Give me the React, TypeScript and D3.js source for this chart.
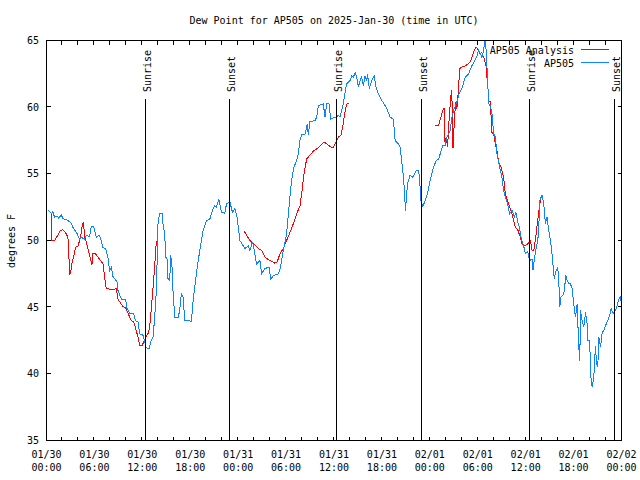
import React from "react";
import * as d3 from "d3";

const TITLE = "Dew Point for AP505 on 2025-Jan-30 (time in UTC)";
const Y_LABEL = "degrees F";
const SERIES_NAMES = ["AP505 Analysis", "AP505"];

// hours since 2025-01-30 00:00 UTC
const blueHours = [
  0.17, 0.67, 0.79, 1.0, 1.42, 1.55, 1.84, 2.05, 2.26, 2.68, 3.09, 3.3, 3.51, 3.8, 4.14, 4.35, 4.77, 4.98,
  5.39, 5.6, 5.9, 6.23, 6.56, 6.73, 7.07, 7.4, 7.69, 7.9, 8.11, 8.32, 8.82, 8.95, 9.37, 9.91, 10.08, 10.41,
  10.91, 11.12, 11.46, 11.67, 12.08, 12.29, 12.5, 12.84, 13.05, 13.34, 13.55, 13.76, 13.97, 14.17, 14.51,
  14.59, 14.8, 14.93, 15.09, 15.22, 15.43, 15.55, 15.72, 15.85, 16.06, 16.47, 16.68, 16.89, 17.1, 17.31,
  18.15, 18.36, 18.56, 18.77, 18.98, 19.19, 19.4, 19.61, 20.03, 20.45, 20.78, 21.07, 21.28, 21.58, 21.91,
  22.33, 22.54, 22.96, 23.29, 23.58, 23.87, 24.21, 24.63, 24.84, 25.25, 25.46, 25.8, 26.09, 26.3, 26.72,
  26.93, 27.35, 27.89, 28.06, 28.39, 29.02, 29.31, 29.65, 30.06, 30.48, 30.69, 30.98, 31.32, 31.53, 31.74,
  31.95, 32.36, 32.66, 32.78, 32.99, 33.62, 33.83, 34.04, 34.66, 34.87, 35.08, 35.37, 35.58, 35.92, 36.25,
  36.54, 36.75, 36.96, 37.17, 37.38, 37.59, 38.01, 38.22, 38.43, 38.64, 38.84, 39.05, 39.26, 39.47, 39.68,
  39.89, 40.1, 40.18, 40.43, 40.73, 41.02, 41.27, 41.56, 41.98, 42.27, 42.61, 43.03, 43.44, 43.65, 44.07,
  44.28, 44.61, 44.78, 44.95, 45.2, 45.53, 45.87, 46.29, 46.58, 46.71, 46.87, 47.12, 47.42, 47.71, 48.04,
  48.46, 48.8, 49.09, 49.3, 49.63, 49.92, 50.13, 50.55, 50.76, 50.97, 51.39, 51.72, 52.01, 52.43, 52.85,
  53.27, 53.69, 53.9, 54.11, 54.32, 54.52, 54.73, 54.94, 55.07, 55.24, 55.36, 55.57, 55.78, 55.99, 56.2,
  56.41, 56.74, 57.03, 57.24, 57.45, 57.74, 57.99, 58.29, 58.58, 58.79, 59.0, 59.21, 59.46, 59.75, 59.96,
  60.25, 60.5, 60.8, 60.92, 61.13, 61.3, 61.51, 61.63, 61.76, 62.05, 62.26, 62.47, 62.68, 62.89, 63.1,
  63.3, 63.51, 63.6, 63.72, 64.02, 64.14, 64.27, 64.43, 64.68, 64.85, 65.02, 65.19, 65.4, 65.6, 65.81,
  66.02, 66.23, 66.44, 66.52, 66.65, 66.78, 66.86, 67.07, 67.28, 67.49, 67.7, 67.78, 68.03, 68.11, 68.32,
  68.53, 68.74, 68.87, 69.03, 69.16, 69.37, 69.58, 69.79, 69.99, 70.29, 70.54, 70.71, 70.96, 71.13, 71.38,
  71.67, 71.88, 72.0,
];
const blueValues = [
  52.3, 52.0, 52.2, 51.75, 51.8, 51.65, 51.95, 51.65, 51.6, 51.5, 51.3, 51.0, 50.8, 50.55, 50.1, 50.25, 50.1, 50.4,
  50.3, 51.05, 51.05, 50.25, 50.4, 50.25, 49.45, 49.4, 48.75, 47.75, 48.0, 47.3, 46.9, 46.25, 45.6, 45.55, 44.9, 44.55,
  44.5, 44.0, 43.9, 43.0, 42.9, 42.4, 41.95, 41.9, 42.4, 42.75, 44.25, 46.25, 51.4, 52.0, 52.05,
  51.25, 50.5, 48.75, 48.6, 47.1, 47.0, 48.9, 48.0, 46.1, 44.25, 44.2, 44.75, 46.0, 45.75, 44.0,
  43.95, 45.5, 46.5, 47.5, 48.4, 49.25, 50.0, 50.75, 51.5, 51.6, 52.25, 52.6, 52.5, 53.1, 52.1,
  52.05, 52.75, 52.9, 52.1, 52.4, 51.75, 50.0, 49.6, 49.4, 49.6, 49.25, 49.9, 49.0, 48.25, 48.5,
  47.5, 47.9, 48.0, 47.1, 47.35, 47.5, 48.0, 49.25, 50.5, 53.25, 54.5, 55.5, 56.0, 56.5, 57.5,
  57.95, 57.95, 58.75, 57.9, 58.9, 59.0, 59.25, 60.1, 60.25, 59.25, 60.25, 60.25, 59.1, 59.2, 59.25,
  59.4, 59.25, 59.75, 60.25, 61.1, 61.75, 62.0, 62.35, 62.25, 62.6, 62.25, 61.5, 62.0, 62.25, 61.6,
  62.35, 62.0, 62.5, 61.4, 62.0, 62.35, 61.5, 61.0, 60.5, 60.25, 59.9, 59.25, 59.1, 57.5, 57.25,
  57.0, 55.25, 54.1, 52.25, 54.25, 54.9, 54.75, 55.25, 55.25, 54.75, 53.0, 52.55, 53.0, 53.5, 54.5,
  55.5, 56.0, 56.1, 56.5, 57.1, 57.1, 57.75, 58.25, 59.25, 59.75, 60.4, 61.1, 61.4, 62.25, 62.5,
  63.1, 63.6, 63.85, 64.25, 64.0, 63.75, 64.25, 65.3, 64.0, 62.0, 60.25, 60.1, 59.5, 58.0, 57.75,
  56.5, 55.5, 54.75, 53.75, 53.25, 52.75, 52.0, 52.25, 51.75, 52.1, 51.4, 51.0, 50.1, 49.6, 49.0,
  49.2, 48.5, 48.6, 47.75, 48.75, 49.4, 50.0, 50.75, 53.0, 53.4, 52.75, 51.25, 51.75, 50.75, 50.0,
  49.0, 47.6, 47.1, 47.6, 47.95, 47.1, 45.0, 45.75, 45.9, 46.25, 47.4, 47.0, 46.8, 46.75, 46.4,
  45.25, 44.25, 45.2, 44.0, 42.0, 41.0, 44.75, 44.0, 43.5, 44.6, 43.75, 42.5, 42.5, 40.0, 39.0,
  39.75, 42.1, 40.75, 40.5, 42.75, 42.0, 43.1, 43.25, 43.6, 44.0, 44.4, 44.9, 44.5, 44.65, 44.95,
  45.6, 45.8, 45.1,
];

// null marks a gap in the analysis series
const redHours = [
  0.67, 0.68, 1.0, 1.42, 1.71, 2.05, 2.38, 2.68, 2.8, 2.89, 3.01, 3.22, 3.43, 3.64, 3.93, 4.14, 4.35, 4.47,
  4.64, 4.77, 4.98, 5.18, 5.39, 5.6, 5.69, 5.81, 6.15, 6.44, 6.77, 7.07, 7.28, 7.48, 7.9, 8.53, 8.74, 8.95,
  9.16, 9.58, 9.91, 10.2, 10.62, 10.91, 11.12, 11.46, 11.67, 11.96, 12.17, 12.42, 12.59, 12.79, 13.0, 13.21,
  13.42, 13.59, 13.76,
  18.0,
  24.71, 25.05, 25.46, 25.97, 26.51, 26.93, 27.35, 27.97, 28.6, 28.89, 29.23, 29.65, 30.06, 30.48, 30.9,
  31.32, 31.74, 31.95, 32.24, 32.57, 32.99, 33.41, 33.91, 34.24, 34.75, 35.08, 35.5, 35.92, 36.25, 36.54,
  36.88, 37.09, 37.26, 37.51, 37.67, 37.92,
  43.0,
  48.67, 49.09, 49.38, 49.71, 49.84, 49.86, 50.05, 50.22, 50.43, 50.64, 50.76, 50.85, 50.97, 51.05, 51.26,
  51.39, 51.6, 51.72, 52.01, 52.43, 52.85, 53.06, 53.27, 53.56, 53.77, 53.98, 54.23, 54.52, 54.82, 55.07,
  55.15, 55.28, 55.36, 55.57, 55.65, 55.78, 55.99, 56.2, 56.41, 56.61, 56.91, 57.24, 57.45, 57.74, 57.99,
  58.29, 58.71, 59.04, 59.33, 59.54, 59.96, 60.25, 60.59, 60.8, 61.01, 61.21, 61.51, 61.76, 61.93,
];
const redValues = [
  52.0, 50.0, 50.0, 50.4, 50.75, 50.8, 50.6, 50.25, 48.9, 47.45, 47.5, 48.4, 48.9, 49.5, 49.55, 50.0, 50.6, 51.1,
  51.4, 50.25, 49.9, 49.4, 48.9, 48.4, 48.2, 49.0, 49.0, 48.75, 48.5, 48.25, 47.25, 46.4, 46.35, 46.35, 46.4, 45.6,
  45.4, 45.05, 44.95, 44.55, 44.0, 43.9, 43.5, 42.75, 42.1, 42.1, 42.4, 42.75, 42.9, 43.1, 44.0, 45.5,
  47.0, 48.5, 50.0,
  null,
  50.75, 50.4, 50.0, 49.75, 49.4, 49.25, 48.75, 48.5, 48.3, 48.4, 49.0, 49.4, 50.0, 50.6, 51.25,
  52.0, 52.6, 53.5, 55.0, 56.1, 56.4, 56.7, 56.9, 57.1, 57.4, 57.25, 57.05, 56.95, 57.4, 57.75,
  57.9, 58.5, 59.25, 60.0, 60.3, 60.3,
  null,
  58.6, 58.6, 59.25, 59.9, 59.9, 57.4, 57.75, 57.0, 59.25, 60.9, 61.25, 57.0, 57.0, 59.0, 60.4,
  59.9, 61.4, 62.9, 63.0, 63.1, 63.25, 63.4, 63.75, 64.25, 64.5, 64.4, 64.0, 64.1, 63.6, 63.0,
  62.25, 61.4, 60.4, 60.4, 59.5, 58.1, 58.0, 57.25, 56.75, 55.9, 55.5, 54.75, 53.5, 53.0, 52.5,
  52.0, 51.0, 50.75, 50.25, 49.75, 49.6, 49.75, 50.0, 49.25, 49.25, 50.0, 51.5, 52.75, 53.1,
];

const sunHours = [12.3, 22.85, 36.3, 46.95, 60.37, 71.07];
const sunLabels = ["Sunrise", "Sunset", "Sunrise", "Sunset", "Sunrise", "Sunset"];

const Y_DOMAIN = [35, 65];
const X_HOURS = 72;

const START = Date.UTC(2025, 0, 30);
const toDate = (h: number) => new Date(START + h * 3600000);

const FONT = "'DejaVu Sans Mono', monospace";

export default function App() {
  const W = 640, H = 480;
  const L = 46.5, R = 621.5, T = 40.5, B = 440.5;

  const x = d3.scaleUtc().domain([toDate(0), toDate(X_HOURS)]).range([L, R]);
  const y = d3.scaleLinear().domain(Y_DOMAIN).range([B, T]);

  const blue = blueHours.map((h, i) => ({ t: toDate(h), v: blueValues[i] as number | null }));
  const red = redHours.map((h, i) => ({ t: toDate(h), v: redValues[i] as number | null }));

  const line = d3
    .line<{ t: Date; v: number | null }>()
    .defined((d) => d.v !== null)
    .x((d) => x(d.t))
    .y((d) => y(d.v as number));

  const majorTicks = x.ticks(d3.utcHour.every(6)!);
  const minorTicks = x.ticks(d3.utcHour.every(2)!);
  const yTicks = y.ticks(6);
  const fmtDate = d3.utcFormat("%m/%d");
  const fmtTime = d3.utcFormat("%H:%M");
  const tl = 4;

  const blueColor = "#0a84ff";
  const redColor = "#ff0000";

  return (
    <svg
      width={W}
      height={H}
      style={{ position: "absolute", left: 0, top: 0, background: "#fff" }}
      fontFamily={FONT}
      fontSize={10}
    >
      <rect x={0} y={0} width={W} height={H} fill="#fff" />
      <defs>
        <clipPath id="plotclip">
          <rect x={L} y={T} width={R - L} height={B - T} />
        </clipPath>
      </defs>

      <text x={(L + R) / 2} y={20} textAnchor="middle" dominantBaseline="central">
        {TITLE}
      </text>

      {/* y ticks */}
      {yTicks.map((v) => (
        <g key={"y" + v}>
          <line x1={L} x2={L + tl} y1={Math.round(y(v)) + 0.5 - 1} y2={Math.round(y(v)) + 0.5 - 1} stroke="#000" shapeRendering="crispEdges" />
          <line x1={R - tl} x2={R} y1={Math.round(y(v)) + 0.5 - 1} y2={Math.round(y(v)) + 0.5 - 1} stroke="#000" shapeRendering="crispEdges" />
          <text x={39} y={y(v)} textAnchor="end" dominantBaseline="central">
            {v}
          </text>
        </g>
      ))}

      {/* x ticks */}
      {minorTicks.map((d) => (
        <g key={"m" + d.getTime()}>
          <line x1={Math.round(x(d)) - 0.5} x2={Math.round(x(d)) - 0.5} y1={B} y2={B - tl} stroke="#000" shapeRendering="crispEdges" />
          <line x1={Math.round(x(d)) - 0.5} x2={Math.round(x(d)) - 0.5} y1={T} y2={T + tl} stroke="#000" shapeRendering="crispEdges" />
        </g>
      ))}
      {majorTicks.map((d) => (
        <g key={"M" + d.getTime()}>
          <text x={x(d)} y={454} textAnchor="middle" dominantBaseline="central">
            {fmtDate(d)}
          </text>
          <text x={x(d)} y={467} textAnchor="middle" dominantBaseline="central">
            {fmtTime(d)}
          </text>
        </g>
      ))}

      <text transform={`translate(11,241) rotate(-90)`} textAnchor="middle" dominantBaseline="central">
        {Y_LABEL}
      </text>

      <g clipPath="url(#plotclip)">
        <path d={line(red) || ""} fill="none" stroke={redColor} strokeWidth={1} shapeRendering="crispEdges" />
        <path d={line(blue) || ""} fill="none" stroke={blueColor} strokeWidth={1} shapeRendering="crispEdges" />
      </g>

      {/* sunrise / sunset markers */}
      {sunHours.map((h, i) => {
        const lx = Math.round(x(toDate(h))) + 0.5;
        return (
          <g key={"s" + i}>
            <line x1={lx} x2={lx} y1={99} y2={B} stroke="#000" shapeRendering="crispEdges" />
            <text transform={`translate(${lx + 1.5},92) rotate(-90)`} textAnchor="start" dominantBaseline="central">
              {sunLabels[i]}
            </text>
          </g>
        );
      })}

      {/* legend */}
      <text x={574} y={50} textAnchor="end" dominantBaseline="central">
        {SERIES_NAMES[0]}
      </text>
      <line x1={581} x2={609} y1={49.5} y2={49.5} stroke={redColor} shapeRendering="crispEdges" />
      <text x={574} y={63} textAnchor="end" dominantBaseline="central">
        {SERIES_NAMES[1]}
      </text>
      <line x1={581} x2={609} y1={62.5} y2={62.5} stroke={blueColor} shapeRendering="crispEdges" />

      <rect x={L} y={T} width={R - L} height={B - T} fill="none" stroke="#000" shapeRendering="crispEdges" />
    </svg>
  );
}
